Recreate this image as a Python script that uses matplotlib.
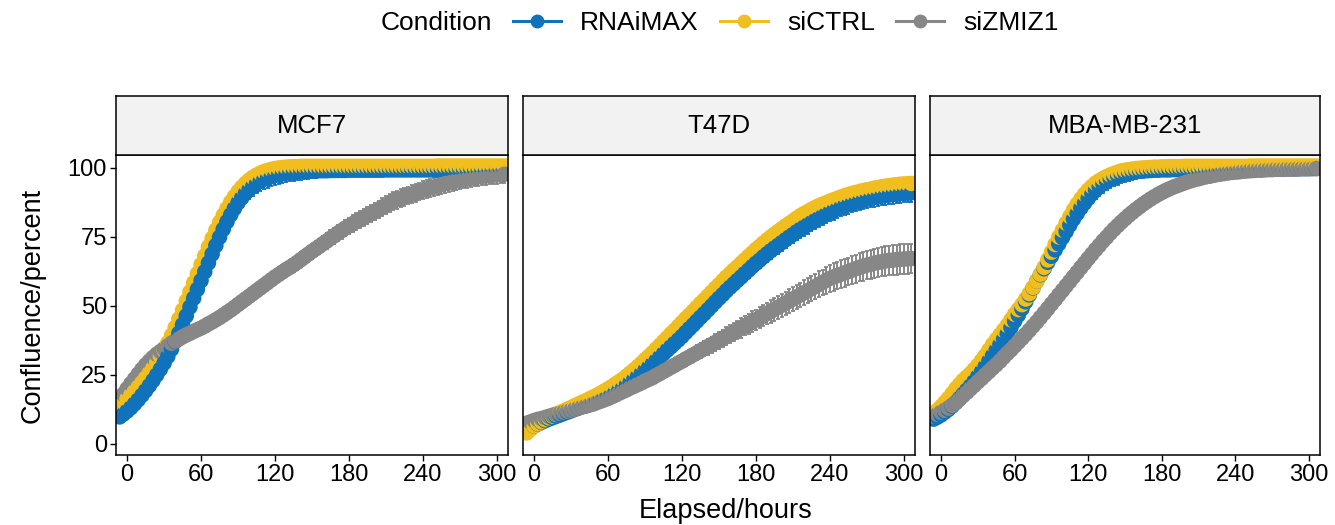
import numpy as np
import matplotlib
matplotlib.use("Agg")
import matplotlib.pyplot as plt
from matplotlib.lines import Line2D

plt.rcParams['font.family'] = ['Liberation Sans', 'DejaVu Sans']

# ---------------- data ----------------
elapsed = np.arange(-6, 307, 3)  # hours, every 3 h

conditions = ["RNAiMAX", "siCTRL", "siZMIZ1"]
colors = ["#1072BA", "#F0BE1E", "#878787"]
cell_lines = ["MCF7", "T47D", "MBA-MB-231"]

mcf7_rnaimax = [
    9.8, 10.8, 11.9, 13.1, 14.5, 16.0, 17.6, 19.3, 21.1, 23.0,
    25.0, 27.1, 29.3, 31.7, 34.3, 37.1, 40.1, 43.2, 46.4, 49.6,
    52.8, 56.0, 59.2, 62.4, 65.6, 68.8, 71.9, 74.9, 77.8, 80.5,
    83.0, 85.3, 87.4, 89.2, 90.8, 92.2, 93.4, 94.4, 95.2, 95.9,
    96.4, 96.9, 97.3, 97.6, 97.9, 98.1, 98.3, 98.5, 98.6, 98.7,
    98.8, 98.8, 98.9, 98.9, 99.0, 99.0, 99.0, 99.1, 99.1, 99.1,
    99.1, 99.1, 99.2, 99.2, 99.2, 99.2, 99.2, 99.2, 99.2, 99.2,
    99.2, 99.2, 99.3, 99.3, 99.3, 99.3, 99.3, 99.3, 99.3, 99.3,
    99.3, 99.3, 99.3, 99.3, 99.3, 99.3, 99.3, 99.3, 99.3, 99.3,
    99.3, 99.3, 99.3, 99.3, 99.3, 99.3, 99.3, 99.3, 99.3, 99.3,
    99.3, 99.3, 99.3, 99.3, 99.3]
mcf7_sictrl = [
    14.0, 15.2, 16.4, 17.7, 19.1, 20.6, 22.2, 23.9, 25.7, 27.6,
    29.6, 31.8, 34.1, 36.6, 39.3, 42.2, 45.3, 48.5, 51.8, 55.1,
    58.4, 61.7, 65.0, 68.2, 71.4, 74.5, 77.5, 80.3, 82.9, 85.3,
    87.6, 89.6, 91.4, 93.0, 94.4, 95.6, 96.6, 97.4, 98.1, 98.7,
    99.1, 99.5, 99.8, 100.0, 100.2, 100.3, 100.4, 100.5, 100.5, 100.6,
    100.6, 100.6, 100.6, 100.6, 100.6, 100.6, 100.6, 100.6, 100.6, 100.6,
    100.6, 100.6, 100.6, 100.6, 100.6, 100.6, 100.6, 100.6, 100.6, 100.6,
    100.6, 100.6, 100.6, 100.6, 100.6, 100.6, 100.6, 100.6, 100.6, 100.6,
    100.6, 100.6, 100.6, 100.6, 100.6, 100.6, 100.7, 100.7, 100.7, 100.7,
    100.7, 100.7, 100.7, 100.7, 100.7, 100.7, 100.7, 100.7, 100.7, 100.7,
    100.7, 100.7, 100.7, 100.7, 100.7]
mcf7_sizmiz1 = [
    16.0, 18.0, 20.0, 21.8, 23.5, 25.3, 27.0, 28.6, 30.0, 31.3,
    32.5, 33.5, 34.5, 35.5, 36.5, 37.3, 38.0, 38.8, 39.5, 40.1,
    40.8, 41.4, 42.0, 42.7, 43.5, 44.2, 45.0, 45.8, 46.7, 47.6,
    48.5, 49.5, 50.5, 51.5, 52.5, 53.5, 54.5, 55.5, 56.5, 57.5,
    58.5, 59.5, 60.5, 61.4, 62.3, 63.2, 64.0, 64.9, 65.8, 66.8,
    67.8, 68.8, 69.8, 70.7, 71.6, 72.6, 73.5, 74.5, 75.4, 76.4,
    77.3, 78.2, 79.0, 79.8, 80.6, 81.3, 82.0, 82.8, 83.5, 84.3,
    85.0, 85.8, 86.5, 87.3, 88.0, 88.5, 89.0, 89.5, 90.0, 90.5,
    91.0, 91.5, 92.0, 92.4, 92.8, 93.1, 93.5, 93.9, 94.3, 94.6,
    95.0, 95.3, 95.5, 95.8, 96.0, 96.3, 96.5, 96.8, 97.0, 97.1,
    97.3, 97.4, 97.5, 97.6, 97.7]

t47d_rnaimax = [
    4.5, 5.5, 6.5, 7.2, 7.8, 8.4, 9.0, 9.5, 10.0, 10.5,
    11.0, 11.5, 12.0, 12.5, 13.0, 13.5, 14.0, 14.5, 15.0, 15.6,
    16.2, 16.8, 17.5, 18.2, 19.0, 19.7, 20.5, 21.5, 22.5, 23.5,
    24.5, 25.6, 26.7, 27.8, 29.0, 30.2, 31.5, 32.7, 34.0, 35.2,
    36.5, 37.7, 39.0, 40.4, 41.8, 43.1, 44.5, 45.9, 47.2, 48.6,
    50.0, 51.4, 52.8, 54.1, 55.5, 56.8, 58.0, 59.3, 60.5, 61.8,
    63.0, 64.3, 65.5, 66.6, 67.8, 68.9, 70.0, 71.0, 72.0, 73.0,
    74.0, 75.0, 75.9, 76.9, 77.8, 78.6, 79.4, 80.2, 81.0, 81.8,
    82.5, 83.3, 84.0, 84.6, 85.2, 85.8, 86.3, 86.7, 87.2, 87.6,
    88.0, 88.3, 88.7, 89.0, 89.3, 89.5, 89.8, 90.0, 90.2, 90.4,
    90.5, 90.7, 90.8, 90.9, 91.0]
t47d_sictrl = [
    4.0, 5.3, 6.5, 7.3, 8.0, 8.8, 9.5, 10.1, 10.7, 11.4,
    12.0, 12.6, 13.2, 13.9, 14.5, 15.1, 15.7, 16.4, 17.0, 17.7,
    18.4, 19.2, 20.0, 20.8, 21.7, 22.6, 23.5, 24.6, 25.7, 26.8,
    28.0, 29.2, 30.5, 31.7, 33.0, 34.4, 35.7, 37.1, 38.5, 39.9,
    41.2, 42.6, 44.0, 45.4, 46.7, 48.1, 49.5, 50.9, 52.2, 53.6,
    55.0, 56.4, 57.7, 59.1, 60.5, 61.7, 63.0, 64.2, 65.5, 66.7,
    68.0, 69.2, 70.5, 71.6, 72.8, 73.9, 75.0, 76.0, 77.0, 78.0,
    79.0, 79.9, 80.8, 81.8, 82.7, 83.5, 84.2, 85.0, 85.7, 86.3,
    86.9, 87.4, 88.0, 88.5, 89.0, 89.5, 90.0, 90.4, 90.8, 91.1,
    91.5, 91.8, 92.1, 92.4, 92.7, 92.9, 93.2, 93.4, 93.6, 93.8,
    93.9, 94.1, 94.2, 94.3, 94.4]
t47d_sizmiz1 = [
    7.5, 8.0, 8.5, 8.9, 9.2, 9.6, 10.0, 10.4, 10.8, 11.1,
    11.5, 11.9, 12.2, 12.6, 13.0, 13.4, 13.7, 14.1, 14.5, 15.0,
    15.5, 16.0, 16.5, 17.1, 17.7, 18.4, 19.0, 19.6, 20.3, 20.9,
    21.5, 22.1, 22.8, 23.4, 24.0, 24.8, 25.5, 26.3, 27.0, 27.8,
    28.5, 29.3, 30.0, 30.8, 31.5, 32.3, 33.0, 33.8, 34.5, 35.3,
    36.0, 36.8, 37.5, 38.3, 39.0, 39.8, 40.5, 41.3, 42.0, 42.8,
    43.5, 44.3, 45.0, 45.8, 46.5, 47.3, 48.0, 48.8, 49.5, 50.3,
    51.0, 51.8, 52.5, 53.3, 54.0, 54.8, 55.5, 56.3, 57.0, 57.8,
    58.5, 59.3, 60.0, 60.5, 61.0, 61.5, 62.0, 62.5, 63.0, 63.5,
    64.0, 64.4, 64.8, 65.1, 65.5, 65.8, 66.0, 66.3, 66.5, 66.6,
    66.8, 66.9, 67.0, 67.1, 67.2]

mba_rnaimax = [
    9.0, 9.7, 10.5, 11.5, 12.5, 13.7, 15.0, 16.5, 18.0, 19.5,
    21.0, 22.7, 24.5, 26.2, 28.0, 30.0, 32.0, 34.0, 36.0, 38.0,
    40.0, 42.2, 44.5, 46.7, 49.0, 51.5, 54.0, 56.5, 59.0, 61.3,
    63.5, 65.8, 68.0, 70.3, 72.5, 74.8, 77.0, 79.3, 81.5, 83.5,
    85.5, 87.3, 89.0, 90.6, 92.0, 93.2, 94.3, 95.2, 96.0, 96.6,
    97.2, 97.6, 98.0, 98.3, 98.5, 98.7, 98.9, 99.0, 99.0, 99.1,
    99.2, 99.2, 99.3, 99.3, 99.3, 99.4, 99.4, 99.4, 99.4, 99.5,
    99.5, 99.5, 99.5, 99.5, 99.5, 99.5, 99.5, 99.5, 99.5, 99.5,
    99.6, 99.6, 99.6, 99.6, 99.6, 99.6, 99.6, 99.6, 99.6, 99.6,
    99.7, 99.7, 99.7, 99.7, 99.7, 99.7, 99.7, 99.7, 99.7, 99.7,
    99.8, 99.8, 99.8, 99.8, 99.8]
mba_sictrl = [
    11.0, 12.2, 13.5, 15.0, 16.5, 18.2, 20.0, 21.5, 23.0, 24.3,
    25.5, 27.0, 28.5, 30.2, 32.0, 34.0, 36.0, 37.8, 39.5, 41.2,
    43.0, 45.0, 47.0, 48.7, 50.5, 52.5, 54.5, 56.7, 59.0, 61.5,
    64.0, 66.7, 69.5, 72.3, 75.0, 77.5, 80.0, 82.4, 84.8, 86.9,
    88.8, 90.5, 92.0, 93.3, 94.5, 95.4, 96.2, 96.9, 97.5, 98.0,
    98.5, 98.9, 99.2, 99.4, 99.6, 99.8, 99.9, 100.0, 100.1, 100.2,
    100.3, 100.3, 100.4, 100.4, 100.5, 100.5, 100.5, 100.5, 100.6, 100.6,
    100.6, 100.6, 100.6, 100.6, 100.6, 100.6, 100.6, 100.6, 100.6, 100.6,
    100.6, 100.6, 100.6, 100.6, 100.6, 100.6, 100.7, 100.7, 100.7, 100.7,
    100.7, 100.7, 100.7, 100.7, 100.7, 100.7, 100.7, 100.7, 100.7, 100.7,
    100.7, 100.7, 100.7, 100.7, 100.7]
mba_sizmiz1 = [
    10.0, 10.7, 11.5, 12.2, 13.0, 14.0, 15.0, 16.2, 17.5, 18.7,
    20.0, 21.2, 22.5, 23.7, 25.0, 26.2, 27.5, 28.7, 30.0, 31.4,
    32.8, 34.1, 35.5, 36.9, 38.3, 39.7, 41.2, 42.7, 44.2, 45.8,
    47.4, 49.0, 50.7, 52.3, 54.0, 55.6, 57.3, 58.9, 60.6, 62.2,
    63.9, 65.5, 67.2, 68.8, 70.4, 71.9, 73.5, 74.9, 76.4, 77.8,
    79.1, 80.4, 81.6, 82.8, 83.9, 85.0, 86.0, 87.0, 87.9, 88.8,
    89.6, 90.4, 91.1, 91.8, 92.4, 93.0, 93.5, 94.0, 94.5, 95.0,
    95.4, 95.8, 96.1, 96.5, 96.8, 97.0, 97.3, 97.6, 97.8, 98.0,
    98.2, 98.4, 98.5, 98.6, 98.8, 98.9, 99.0, 99.1, 99.2, 99.2,
    99.3, 99.4, 99.4, 99.5, 99.5, 99.5, 99.6, 99.6, 99.6, 99.7,
    99.7, 99.7, 99.7, 99.8, 99.8]

# standard deviations (error bars)
mcf7_rnaimax_sd = [
    0.8, 0.8, 0.9, 0.9, 1.0, 1.0, 1.1, 1.1, 1.2, 1.2,
    1.3, 1.4, 1.5, 1.6, 1.7, 1.8, 1.9, 2.0, 2.1, 2.2,
    2.3, 2.4, 2.5, 2.6, 2.7, 2.8, 2.9, 3.0, 3.1, 3.2,
    3.3, 3.4, 3.5, 3.5, 3.6, 3.6, 3.6, 3.6, 3.6, 3.6,
    3.6, 3.5, 3.5, 3.4, 3.4, 3.3, 3.2, 3.1, 3.0, 2.9,
    2.8, 2.7, 2.6, 2.5, 2.4, 2.3, 2.2, 2.1, 2.0, 1.9,
    1.8, 1.7, 1.6, 1.5, 1.4, 1.3, 1.2, 1.2, 1.1, 1.1,
    1.0, 1.0, 1.0, 1.0, 1.0, 1.0, 1.0, 1.0, 1.0, 1.0,
    1.0, 1.0, 0.9, 0.9, 0.9, 0.9, 0.9, 0.9, 0.9, 0.9,
    0.9, 0.9, 0.9, 0.9, 0.9, 0.9, 0.9, 0.9, 0.9, 0.9,
    0.9, 0.9, 0.9, 0.9, 0.9]
mcf7_sictrl_sd = [
    0.9, 0.9, 1.0, 1.0, 1.0, 1.1, 1.1, 1.2, 1.2, 1.3,
    1.3, 1.4, 1.5, 1.6, 1.6, 1.7, 1.8, 1.8, 1.9, 2.0,
    2.0, 2.0, 2.1, 2.1, 2.1, 2.1, 2.1, 2.0, 2.0, 2.0,
    1.9, 1.9, 1.8, 1.8, 1.7, 1.7, 1.6, 1.6, 1.5, 1.5,
    1.5, 1.4, 1.4, 1.4, 1.3, 1.3, 1.3, 1.3, 1.2, 1.2,
    1.2, 1.2, 1.2, 1.2, 1.2, 1.2, 1.1, 1.1, 1.1, 1.1,
    1.1, 1.1, 1.1, 1.1, 1.0, 1.0, 1.0, 1.0, 1.0, 1.0,
    1.0, 1.0, 1.0, 1.0, 1.0, 1.0, 1.0, 1.0, 1.0, 1.0,
    1.0, 1.0, 1.0, 1.0, 1.0, 1.0, 1.0, 1.0, 1.0, 1.0,
    1.0, 1.0, 1.0, 1.0, 1.0, 1.0, 1.0, 1.0, 1.0, 1.0,
    1.0, 1.0, 1.0, 1.0, 1.0]
mcf7_sizmiz1_sd = [
    1.4, 1.4, 1.5, 1.5, 1.5, 1.5, 1.5, 1.5, 1.5, 1.5,
    1.5, 1.5, 1.5, 1.6, 1.6, 1.6, 1.6, 1.7, 1.7, 1.7,
    1.8, 1.8, 1.8, 1.8, 1.9, 1.9, 1.9, 2.0, 2.0, 2.0,
    2.0, 2.1, 2.1, 2.1, 2.2, 2.2, 2.2, 2.3, 2.3, 2.3,
    2.3, 2.4, 2.4, 2.4, 2.5, 2.5, 2.5, 2.6, 2.6, 2.6,
    2.6, 2.7, 2.7, 2.7, 2.8, 2.8, 2.8, 2.9, 2.9, 2.9,
    2.9, 3.0, 3.0, 3.0, 3.0, 3.1, 3.1, 3.1, 3.1, 3.1,
    3.1, 3.2, 3.2, 3.2, 3.2, 3.2, 3.2, 3.2, 3.2, 3.2,
    3.2, 3.2, 3.2, 3.2, 3.2, 3.2, 3.2, 3.2, 3.2, 3.2,
    3.2, 3.2, 3.2, 3.2, 3.2, 3.2, 3.2, 3.2, 3.2, 3.2,
    3.2, 3.2, 3.2, 3.2, 3.2]

t47d_rnaimax_sd = [
    0.8, 0.8, 0.8, 0.8, 0.8, 0.9, 0.9, 0.9, 0.9, 0.9,
    1.0, 1.0, 1.0, 1.0, 1.0, 1.1, 1.1, 1.1, 1.1, 1.1,
    1.2, 1.2, 1.2, 1.2, 1.3, 1.3, 1.3, 1.4, 1.4, 1.4,
    1.5, 1.5, 1.5, 1.6, 1.6, 1.6, 1.7, 1.7, 1.7, 1.8,
    1.8, 1.8, 1.9, 1.9, 2.0, 2.0, 2.0, 2.1, 2.1, 2.2,
    2.2, 2.3, 2.3, 2.4, 2.4, 2.5, 2.5, 2.6, 2.6, 2.7,
    2.7, 2.7, 2.8, 2.8, 2.8, 2.9, 2.9, 2.9, 3.0, 3.0,
    3.0, 3.0, 3.1, 3.1, 3.1, 3.1, 3.2, 3.2, 3.2, 3.2,
    3.2, 3.2, 3.2, 3.3, 3.3, 3.3, 3.3, 3.3, 3.3, 3.3,
    3.3, 3.3, 3.3, 3.3, 3.3, 3.3, 3.3, 3.3, 3.3, 3.3,
    3.3, 3.3, 3.3, 3.3, 3.3]
t47d_sictrl_sd = [
    0.8, 0.8, 0.8, 0.8, 0.8, 0.9, 0.9, 0.9, 0.9, 0.9,
    1.0, 1.0, 1.0, 1.0, 1.0, 1.1, 1.1, 1.1, 1.1, 1.1,
    1.2, 1.2, 1.2, 1.2, 1.2, 1.3, 1.3, 1.3, 1.3, 1.3,
    1.4, 1.4, 1.4, 1.4, 1.4, 1.5, 1.5, 1.5, 1.5, 1.5,
    1.6, 1.6, 1.6, 1.6, 1.6, 1.7, 1.7, 1.7, 1.7, 1.7,
    1.8, 1.8, 1.8, 1.8, 1.8, 1.9, 1.9, 1.9, 1.9, 1.9,
    2.0, 2.0, 2.0, 2.0, 2.0, 2.0, 2.0, 2.0, 2.0, 2.0,
    2.0, 2.0, 2.0, 2.0, 2.0, 2.0, 2.0, 2.0, 2.0, 2.0,
    2.0, 2.0, 2.0, 2.0, 2.0, 2.0, 2.0, 2.0, 2.0, 2.0,
    2.0, 2.0, 2.0, 2.0, 2.0, 2.0, 2.0, 2.0, 2.0, 2.0,
    2.0, 2.0, 2.0, 2.0, 2.0]
t47d_sizmiz1_sd = [
    1.0, 1.0, 1.0, 1.0, 1.0, 1.1, 1.1, 1.1, 1.1, 1.1,
    1.2, 1.2, 1.2, 1.2, 1.3, 1.3, 1.3, 1.3, 1.4, 1.4,
    1.4, 1.5, 1.5, 1.5, 1.6, 1.6, 1.6, 1.7, 1.7, 1.7,
    1.8, 1.8, 1.9, 1.9, 2.0, 2.0, 2.1, 2.1, 2.2, 2.2,
    2.3, 2.3, 2.4, 2.5, 2.5, 2.6, 2.7, 2.7, 2.8, 2.9,
    2.9, 3.0, 3.1, 3.1, 3.2, 3.3, 3.3, 3.4, 3.5, 3.5,
    3.6, 3.7, 3.7, 3.8, 3.9, 3.9, 4.0, 4.1, 4.1, 4.2,
    4.2, 4.3, 4.3, 4.4, 4.4, 4.5, 4.5, 4.6, 4.6, 4.7,
    4.7, 4.8, 4.8, 4.9, 4.9, 5.0, 5.0, 5.0, 5.1, 5.1,
    5.1, 5.2, 5.2, 5.2, 5.3, 5.3, 5.3, 5.3, 5.4, 5.4,
    5.4, 5.4, 5.4, 5.4, 5.4]

mba_rnaimax_sd = [
    1.0, 1.0, 1.0, 1.0, 1.0, 1.1, 1.1, 1.1, 1.1, 1.2,
    1.2, 1.3, 1.3, 1.4, 1.4, 1.5, 1.5, 1.6, 1.6, 1.7,
    1.7, 1.8, 1.8, 1.9, 1.9, 2.0, 2.1, 2.2, 2.3, 2.4,
    2.5, 2.6, 2.7, 2.8, 2.9, 3.0, 3.1, 3.2, 3.3, 3.3,
    3.4, 3.4, 3.4, 3.4, 3.4, 3.4, 3.3, 3.3, 3.3, 3.2,
    3.2, 3.1, 3.0, 2.9, 2.8, 2.7, 2.6, 2.5, 2.4, 2.3,
    2.2, 2.1, 2.0, 1.9, 1.8, 1.7, 1.6, 1.6, 1.5, 1.5,
    1.4, 1.4, 1.3, 1.3, 1.3, 1.2, 1.2, 1.2, 1.2, 1.2,
    1.1, 1.1, 1.1, 1.1, 1.1, 1.1, 1.1, 1.1, 1.1, 1.1,
    1.0, 1.0, 1.0, 1.0, 1.0, 1.0, 1.0, 1.0, 1.0, 1.0,
    1.0, 1.0, 1.0, 1.0, 1.0]
mba_sictrl_sd = [
    1.0, 1.0, 1.0, 1.0, 1.0, 1.1, 1.1, 1.1, 1.1, 1.2,
    1.2, 1.2, 1.3, 1.3, 1.3, 1.4, 1.4, 1.4, 1.5, 1.5,
    1.5, 1.6, 1.6, 1.6, 1.7, 1.7, 1.7, 1.8, 1.8, 1.8,
    1.8, 1.8, 1.8, 1.8, 1.8, 1.8, 1.7, 1.7, 1.7, 1.6,
    1.6, 1.5, 1.5, 1.4, 1.4, 1.3, 1.3, 1.2, 1.2, 1.2,
    1.1, 1.1, 1.1, 1.1, 1.1, 1.1, 1.1, 1.1, 1.1, 1.1,
    1.0, 1.0, 1.0, 1.0, 1.0, 1.0, 1.0, 1.0, 1.0, 1.0,
    1.0, 1.0, 1.0, 1.0, 1.0, 1.0, 1.0, 1.0, 1.0, 1.0,
    1.0, 1.0, 1.0, 1.0, 1.0, 1.0, 1.0, 1.0, 1.0, 1.0,
    1.0, 1.0, 1.0, 1.0, 1.0, 1.0, 1.0, 1.0, 1.0, 1.0,
    1.0, 1.0, 1.0, 1.0, 1.0]
mba_sizmiz1_sd = [
    1.0, 1.0, 1.1, 1.1, 1.1, 1.2, 1.2, 1.2, 1.3, 1.3,
    1.3, 1.4, 1.4, 1.5, 1.5, 1.6, 1.6, 1.7, 1.7, 1.8,
    1.8, 1.9, 2.0, 2.0, 2.1, 2.2, 2.2, 2.3, 2.4, 2.4,
    2.5, 2.6, 2.6, 2.7, 2.8, 2.8, 2.9, 2.9, 3.0, 3.0,
    3.0, 3.0, 3.0, 3.0, 3.0, 2.9, 2.9, 2.9, 2.8, 2.8,
    2.7, 2.7, 2.6, 2.6, 2.5, 2.5, 2.4, 2.4, 2.3, 2.3,
    2.2, 2.2, 2.1, 2.1, 2.0, 2.0, 1.9, 1.9, 1.8, 1.8,
    1.7, 1.7, 1.7, 1.6, 1.6, 1.6, 1.5, 1.5, 1.5, 1.5,
    1.4, 1.4, 1.4, 1.4, 1.4, 1.4, 1.4, 1.4, 1.4, 1.4,
    1.4, 1.4, 1.4, 1.4, 1.4, 1.4, 1.4, 1.4, 1.4, 1.4,
    1.4, 1.4, 1.4, 1.4, 1.4]

series = {
    "MCF7": [mcf7_rnaimax, mcf7_sictrl, mcf7_sizmiz1],
    "T47D": [t47d_rnaimax, t47d_sictrl, t47d_sizmiz1],
    "MBA-MB-231": [mba_rnaimax, mba_sictrl, mba_sizmiz1],
}
errors = {
    "MCF7": [mcf7_rnaimax_sd, mcf7_sictrl_sd, mcf7_sizmiz1_sd],
    "T47D": [t47d_rnaimax_sd, t47d_sictrl_sd, t47d_sizmiz1_sd],
    "MBA-MB-231": [mba_rnaimax_sd, mba_sictrl_sd, mba_sizmiz1_sd],
}

x_ticks = [0, 60, 120, 180, 240, 300]
y_ticks = [0, 25, 50, 75, 100]

# ---------------- figure ----------------
W, H = 1335, 525
fig = plt.figure(figsize=(W / 100, H / 100), dpi=100)


def rect(l, r, top, bottom):
    return [l / W, 1 - bottom / H, (r - l) / W, (bottom - top) / H]


panels = [(116, 508), (523, 915), (930, 1320)]
spine_lw = 1.1
for k, (l, r) in enumerate(panels):
    name = cell_lines[k]
    ax = fig.add_axes(rect(l, r, 155, 455))
    ys = [np.asarray(s) for s in series[name]]
    es = [np.asarray(e) for e in errors[name]]
    n = len(elapsed)
    for y, e, c in zip(ys, es, colors):
        ax.plot(elapsed, y, color=c, lw=2.0, zorder=2)
        ax.errorbar(elapsed, y, yerr=e, fmt='none', ecolor=c,
                    elinewidth=1.4, capsize=1.6, capthick=1.3, zorder=2.5)
    X = np.repeat(elapsed, 3)
    Y = np.column_stack(ys).ravel()
    C = np.tile(np.array(colors), n)
    ax.scatter(X, Y, s=125, c=C, linewidths=0, zorder=3)
    ax.set_xlim(-9, 309)
    ax.set_ylim(-4, 104.7)
    ax.set_xticks(x_ticks)
    ax.tick_params(axis='both', direction='out', length=4.5, width=1.0,
                   labelsize=17, color='black', labelcolor='black', pad=2)
    if k == 0:
        ax.set_yticks(y_ticks)
    else:
        ax.set_yticks([])
    for sp in ax.spines.values():
        sp.set_linewidth(spine_lw)
        sp.set_color('black')
        sp.set_zorder(5)

    st = fig.add_axes(rect(l, r, 96, 155))
    st.set_facecolor('#F1F2F1')
    st.set_xticks([])
    st.set_yticks([])
    for sp in st.spines.values():
        sp.set_linewidth(spine_lw)
        sp.set_color('black')
    st.text(0.5, 0.5, name, ha='center', va='center', fontsize=18.5,
            transform=st.transAxes)

fig.text(726 / W, 1 - 511 / H, "Elapsed/hours", ha='center', va='center',
         fontsize=19.5)
fig.text(33 / W, 1 - 305 / H, "Confluence/percent", ha='center',
         va='center', rotation=90, fontsize=19.5)

# legend
fig.text(436 / W, 1 - 23 / H, "Condition", ha='center', va='center',
         fontsize=19)
handles = [Line2D([], [], color=c, lw=2.2, marker='o', markersize=10,
                  markeredgewidth=0) for c in colors]
fig.legend(handles, conditions, ncol=3, loc='center left',
           bbox_to_anchor=(513 / W, 1 - 23 / H), frameon=False,
           fontsize=19, handlelength=1.8, handletextpad=0.75,
           columnspacing=0.8, borderpad=0, borderaxespad=0)

fig.savefig("out.png", dpi=100)
